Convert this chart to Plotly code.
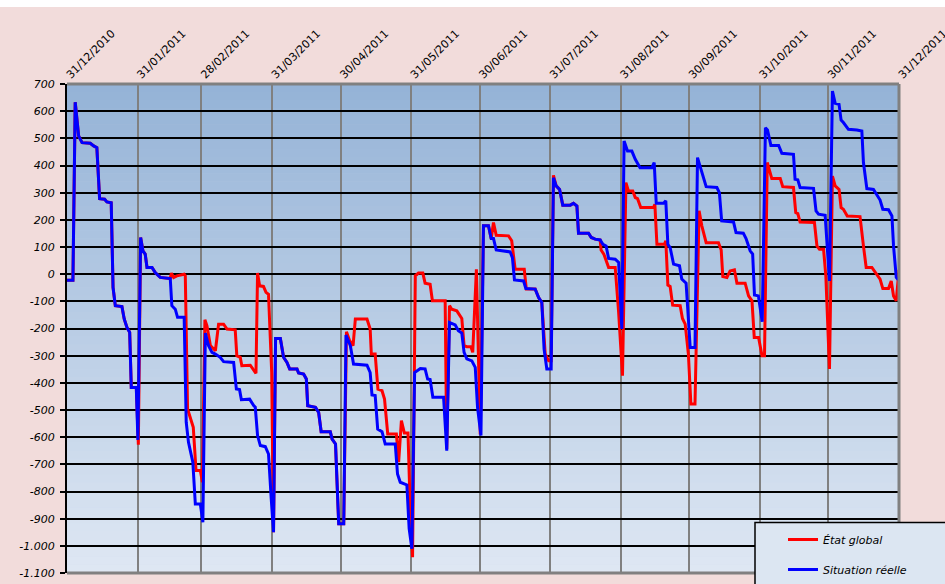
import pandas as pd
import plotly.graph_objects as go

# ---------------- data (days after 31/12/2010, value) ----------------
blue_days = [0, 2.6, 3.6, 5.1, 6.6, 10.2, 11.7, 13.1, 14.3, 16.5, 17.5, 19.4, 20.2, 21.2, 24.1, 25.1,
             26.3, 27.5, 28.2, 30.4, 31.1, 32.3, 33.3, 34.3, 35.1, 37.3, 38.7, 40.9, 45.3, 46.0, 47.5,
             48.5, 51.4, 52.3, 53.3, 55.2, 56.3, 58.5, 59.6, 60.7, 62.1, 63.6, 65.1, 67.2, 68.7, 73.1,
             74.3, 75.7, 76.5, 80.1, 81.9, 82.6, 83.6, 84.8, 87.0, 88.4, 89.6, 90.6, 91.5, 93.6, 95.0,
             96.5, 97.7, 100.9, 101.6, 103.8, 105.0, 105.6, 109.0, 110.4, 111.5, 115.5, 116.3, 117.8,
             119.2, 121.4, 122.4, 123.1, 124.3, 125.7, 131.6, 133.0, 133.8, 135.2, 136.3, 138.2, 139.6,
             144.0, 145.0, 146.2, 149.1, 150.1, 151.3, 152.5, 155.0, 157.1, 158.2, 159.3, 160.5, 165.2,
             166.6, 167.8, 170.3, 171.7, 173.2, 174.2, 175.4, 177.6, 179.1, 180.1, 181.6, 182.7, 184.9,
             186.1, 187.1, 188.3, 192.2, 194.4, 195.4, 196.3, 200.3, 201.3, 205.4, 206.9, 208.3, 209.3,
             210.5, 212.4, 213.4, 214.6, 216.1, 217.5, 220.8, 222.2, 223.7, 224.4, 228.8, 230.0, 231.7,
             233.9, 235.1, 236.5, 237.6, 240.5, 242.0, 243.4, 244.4, 245.9, 247.8, 249.3, 251.4, 256.6,
             257.6, 258.5, 261.7, 262.7, 263.6, 264.6, 266.1, 268.7, 269.7, 271.6, 273.4, 275.5, 276.6,
             278.5, 280.4, 285.1, 286.2, 287.2, 292.4, 293.5, 296.7, 297.9, 299.7, 300.8, 301.6, 303.3,
             305.0, 306.4, 307.3, 308.8, 312.2, 313.6, 318.7, 319.4, 320.6, 321.6, 327.5, 328.6, 329.7,
             332.6, 333.3, 334.5, 335.8, 337.0, 338.7, 339.6, 340.6, 342.8, 346.5, 348.7, 349.4, 350.9,
             353.8, 355.0, 356.7, 357.9, 360.4, 361.9, 362.6, 363.8, 364.4, 365.0]
blue_vals = [-22, -22, 633, 509, 484, 482, 472, 466, 278, 276, 266, 263, -49, -116, -119, -165,
             -196, -214, -417, -417, -610, 135, 86, 74, 25, 25, 6, -12, -16, -116, -129,
             -159, -159, -545, -619, -692, -846, -846, -913, -217, -263, -288, -294, -306, -322, -325,
             -423, -425, -462, -460, -484, -490, -594, -631, -635, -662, -827, -950, -237, -237, -306,
             -325, -349, -349, -364, -368, -386, -484, -490, -509, -580, -580, -607, -625,
             -919, -919, -224, -239, -263, -331, -335, -362, -445, -447, -570, -580, -625,
             -625, -735, -766, -776, -937, -1011, -362, -347, -349, -386, -388, -453, -453,
             -650, -178, -187, -208, -217, -288, -312, -319, -343, -490, -594, 178, 178,
             131, 131, 89, 86, 82, 61, -21, -25, -53, -55, -86, -104, -276,
             -349, -349, 355, 325, 312, 254, 254, 261, 251, 151, 151, 135, 129,
             126, 110, 104, 58, 55, 43, -202, 490, 453, 453, 423, 392, 392,
             411, 261, 261, 270, 110, 98, 37, 31, -18, -33, -270, -270, 429,
             374, 322, 319, 300, 196, 192, 153, 151, 131, 86, 74, -77, -80,
             -175, 539, 531, 474, 474, 445, 441, 349, 347, 319, 316, 233, 221,
             217, 129, -25, 674, 629, 625, 567, 558, 533, 531, 527, 411, 315,
             312, 294, 273, 239, 237, 214, 104, -12, -18, -18]

red_days = [0, 2.6, 3.6, 5.1, 6.6, 10.2, 11.7, 13.1, 14.3, 16.5, 17.5, 19.4, 20.2, 21.2, 24.1, 25.1,
            26.3, 27.5, 28.2, 30.4, 31.3, 32.3, 33.3, 34.3, 35.1, 37.3, 38.7, 40.9, 45.3, 45.8, 46.8,
            48.2, 51.4, 51.9, 52.9, 55.4, 56.6, 58.5, 59.4, 60.5, 61.4, 62.9, 65.1, 66.5, 68.7, 70.2,
            73.8, 74.5, 76.0, 76.7, 80.4, 81.6, 82.9, 83.6, 84.5, 86.2, 87.3, 88.4, 89.8, 90.6, 91.5,
            93.6, 95.0, 96.5, 97.7, 100.9, 101.6, 103.8, 105.0, 105.6, 109.0, 110.4, 111.5, 115.5,
            116.3, 117.8, 119.2, 121.4, 122.6, 124.0, 125.5, 126.5, 131.6, 133.0, 133.5, 135.2, 136.4,
            138.2, 139.3, 140.7, 144.5, 145.5, 146.7, 148.0, 149.6, 150.6, 151.6, 152.8, 154.2, 156.1,
            157.1, 159.3, 160.3, 165.9, 166.6, 167.8, 168.8, 171.0, 172.2, 173.2, 174.2, 175.4, 177.2,
            178.0, 179.6, 181.3, 182.7, 184.9, 186.1, 187.1, 188.3, 193.7, 195.1, 196.6, 200.6, 201.5,
            205.4, 206.9, 208.3, 209.8, 211.3, 212.4, 213.4, 214.6, 216.1, 217.5, 220.8, 222.2, 223.7,
            224.4, 228.8, 230.0, 231.7, 233.9, 234.3, 235.5, 237.6, 240.5, 242.0, 243.7, 245.2, 246.3,
            248.2, 249.3, 250.3, 251.7, 257.3, 257.9, 258.8, 262.1, 262.7, 263.6, 264.6, 265.7, 269.0,
            270.0, 271.2, 272.6, 273.7, 275.5, 277.3, 278.5, 280.4, 285.8, 287.0, 287.7, 289.5, 290.9,
            292.8, 293.9, 297.5, 299.0, 300.5, 301.5, 303.4, 304.9, 306.0, 307.2, 309.2, 312.9, 314.0,
            318.7, 319.7, 320.6, 321.6, 327.9, 329.0, 330.1, 331.9, 332.9, 334.5, 335.8, 337.0, 338.7,
            339.6, 340.6, 342.3, 347.9, 349.4, 350.6, 353.1, 355.0, 356.7, 357.9, 360.4, 361.6, 362.6,
            363.8, 364.8, 365.0]
red_vals = [-22, -22, 633, 509, 484, 482, 472, 466, 278, 276, 266, 263, -49, -116, -119, -165,
            -196, -214, -417, -417, -628, 135, 86, 74, 25, 25, 6, -12, -16, 4, -12,
            -6, 0, -6, -496, -564, -723, -723, -766, -168, -190, -263, -282, -184, -184, -202,
            -205, -300, -306, -337, -335, -349, -365, 4, -43, -45, -67, -74, -361, -950, -237,
            -237, -306, -325, -349, -349, -364, -368, -386, -484, -490, -509, -580, -580,
            -607, -625, -919, -919, -212, -245, -263, -165, -165, -202, -294, -294, -423,
            -429, -460, -588, -588, -692, -539, -585, -585, -876, -1042, -6, 4, 4,
            -33, -37, -98, -98, -643, -116, -129, -135, -153, -163, -263, -267, -267,
            -288, 18, -590, 178, 178, 131, 190, 143, 141, 123, 18, 18, -55,
            -55, -86, -104, -294, -319, -319, 364, 325, 312, 254, 254, 261, 251,
            151, 151, 135, 129, 126, 89, 74, 25, 25, -141, -374, 337, 306,
            306, 282, 278, 245, 245, 257, 110, 110, 123, -40, -45, -114, -116,
            -163, -184, -294, -478, -478, 233, 178, 116, 116, 89, -9, -12, 12,
            16, -33, -33, -80, -98, -233, -233, -300, -300, 411, 352, 352, 322,
            319, 227, 223, 192, 190, 104, 92, 92, -6, -349, 361, 325, 312,
            245, 239, 214, 212, 104, 25, 25, 0, -18, -53, -53, -25, -80,
            -98, 12, 16]

series_names = ["État global", "Situation réelle"]

month_ticks = ["2010-12-31", "2011-01-31", "2011-02-28", "2011-03-31", "2011-04-30", "2011-05-31",
               "2011-06-30", "2011-07-31", "2011-08-31", "2011-09-30", "2011-10-31", "2011-11-30",
               "2011-12-31"]
month_labels = ["31/12/2010", "31/01/2011", "28/02/2011", "31/03/2011", "30/04/2011", "31/05/2011",
                "30/06/2011", "31/07/2011", "31/08/2011", "30/09/2011", "31/10/2011", "30/11/2011",
                "31/12/2011"]

y_tickvals = [700, 600, 500, 400, 300, 200, 100, 0, -100, -200, -300, -400, -500, -600, -700,
              -800, -900, -1000, -1100]
y_ticktext = ["700", "600", "500", "400", "300", "200", "100", "0", "-100", "-200", "-300", "-400",
              "-500", "-600", "-700", "-800", "-900", "-1.000", "-1.100"]

base = pd.Timestamp("2010-12-31")
red_x = base + pd.to_timedelta(red_days, unit="D")
blue_x = base + pd.to_timedelta(blue_days, unit="D")

W, H = 945, 584
ML, MR, MT, MB = 67, 46, 84, 11
PW, PH = W - ML - MR, H - MT - MB
Y_MIN, Y_MAX = -1100, 700


def px_x(px):
    return (px - ML) / PW


def px_y(py):
    return (H - MB - py) / PH


fig = go.Figure()
fig.add_trace(go.Scatter(x=red_x, y=red_vals, mode="lines", name=series_names[0],
                         line=dict(color="#FF0000", width=3), legendgroup="a"))
fig.add_trace(go.Scatter(x=blue_x, y=blue_vals, mode="lines", name=series_names[1],
                         line=dict(color="#0000FF", width=3), legendgroup="b"))

shapes = []
# white strip at very top
shapes.append(dict(type="rect", xref="paper", yref="paper", x0=-0.2, x1=1.2,
                   y0=px_y(7), y1=px_y(-5), fillcolor="white", line_width=0, layer="below"))
# gradient background
N = 60
c_top = (149, 179, 215)
c_bot = (222, 231, 243)
for i in range(N):
    t = i / (N - 1)
    c = tuple(round(c_top[k] + (c_bot[k] - c_top[k]) * t) for k in range(3))
    shapes.append(dict(type="rect", xref="x domain", yref="y domain", x0=0, x1=1,
                       y0=1 - (i + 1) / N, y1=1 - i / N + 0.001,
                       fillcolor="rgb(%d,%d,%d)" % c, line_width=0, layer="below"))
# gray frame (top, right, bottom)
for (x0, y0, x1, y1) in [(0, 1, 1, 1), (1, 0, 1, 1), (0, 0, 1, 0)]:
    shapes.append(dict(type="line", xref="paper", yref="paper", x0=x0, y0=y0, x1=x1, y1=y1,
                       line=dict(color="#808080", width=3), layer="above"))
# legend box
shapes.append(dict(type="rect", xref="paper", yref="paper", x0=px_x(755), x1=px_x(960),
                   y0=px_y(600), y1=px_y(522.5), fillcolor="#DCE6F2",
                   line=dict(color="black", width=1.5), layer="above"))

fig.update_layout(
    width=W, height=H,
    margin=dict(l=ML, r=MR, t=MT, b=MB, pad=0, autoexpand=False),
    paper_bgcolor="#F2DCDB",
    plot_bgcolor="#C0D0E8",
    shapes=shapes,
    showlegend=True,
    legend=dict(x=px_x(783), y=px_y(525), xanchor="left", yanchor="top",
                bgcolor="rgba(0,0,0,0)", borderwidth=0, tracegroupgap=11,
                font=dict(family="DejaVu Sans", size=11, color="black", style="italic")),
    font=dict(family="DejaVu Sans", size=11, color="black"),
    xaxis2=dict(
        overlaying="x", anchor="free", side="bottom",
        position=(0 - Y_MIN) / (Y_MAX - Y_MIN),
        type="date", range=[month_ticks[0], month_ticks[-1]],
        tick0=month_ticks[0], dtick=7 * 24 * 3600 * 1000,
        ticks="outside", ticklen=3, tickwidth=1.5, tickcolor="black",
        showticklabels=False, showgrid=False, zeroline=False, showline=False,
    ),
)
fig.update_xaxes(
    selector=dict(side="top"),
    type="date", range=[month_ticks[0], month_ticks[-1]],
    tickmode="array", tickvals=month_ticks, ticktext=month_labels, tickangle=-45,
    showgrid=True, gridcolor="#808080", gridwidth=2, ticks="", showline=False,
    zeroline=False, automargin=False, ticklabeloverflow="allow",
    tickfont=dict(family="DejaVu Sans", size=11, color="black"),
)
fig.update_layout(xaxis=dict(side="top"))
fig.update_layout(xaxis=dict(
    type="date", range=[month_ticks[0], month_ticks[-1]],
    tickmode="array", tickvals=month_ticks, ticktext=month_labels, tickangle=-45,
    showgrid=True, gridcolor="#808080", gridwidth=2, ticks="", showline=False,
    zeroline=False, automargin=False, ticklabeloverflow="allow",
    tickfont=dict(family="DejaVu Sans", size=11, color="black"),
))
fig.update_layout(yaxis=dict(
    range=[Y_MIN, Y_MAX], tickmode="array", tickvals=y_tickvals, ticktext=y_ticktext,
    showgrid=True, gridcolor="black", gridwidth=2,
    zeroline=True, zerolinecolor="black", zerolinewidth=2,
    showline=True, linecolor="black", linewidth=2, automargin=False,
    ticks="outside", ticklen=5, tickwidth=2, tickcolor="black", ticklabelstandoff=3,
    tickfont=dict(family="DejaVu Sans", size=11, color="black", style="italic"),
))

fig.write_html("out.html", config={"displayModeBar": False},
               post_script="document.body.style.margin='0';document.body.style.overflow='hidden';")
